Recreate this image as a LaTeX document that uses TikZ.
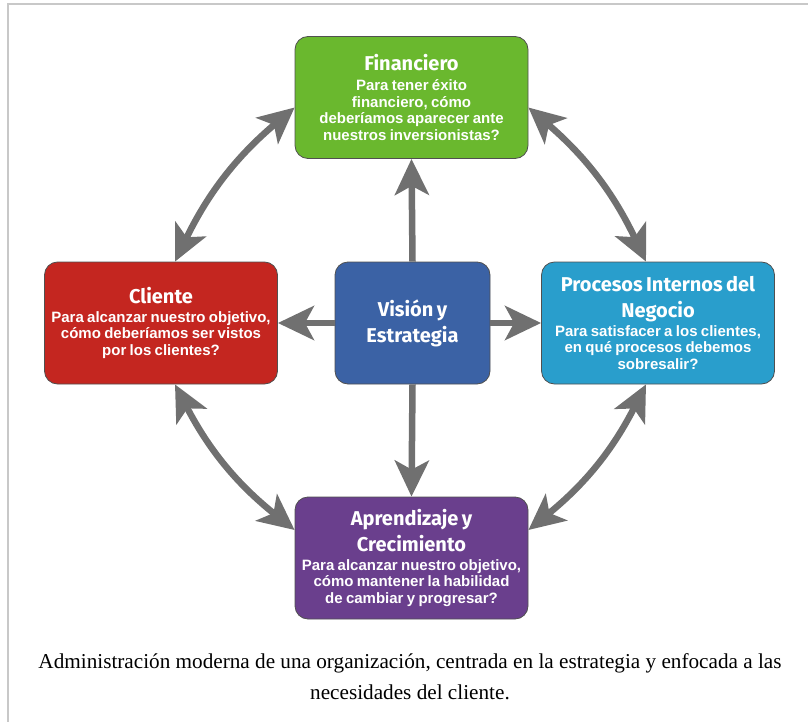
\documentclass[tikz,border=0pt]{standalone}
\usepackage{fontspec}
\setmainfont{Liberation Serif}
\newfontfamily\titlefont{Fira Sans}
\newfontfamily\bodyfont{Liberation Sans}
\usetikzlibrary{arrows.meta,calc}
\definecolor{cfin}{RGB}{106,184,46}
\definecolor{ccli}{RGB}{196,38,32}
\definecolor{cvis}{RGB}{59,98,165}
\definecolor{cpro}{RGB}{41,158,204}
\definecolor{capr}{RGB}{106,63,141}
\definecolor{arrgray}{RGB}{112,112,112}
\definecolor{boxborder}{RGB}{80,80,80}
\definecolor{framegray}{RGB}{200,200,200}
\newcommand\tfont{\titlefont\bfseries\fontsize{20}{26}\selectfont}
\newcommand\bfnt{\bodyfont\bfseries\fontsize{15}{16.8}\selectfont}
\tikzset{
  box/.style={draw=boxborder, line width=0.8pt, rounded corners=13pt,
    minimum width=233pt, minimum height=122pt, text width=230pt,
    align=center, text=white, inner sep=0pt},
  smallbox/.style={box, minimum width=155pt, text width=150pt},
  headtip/.tip={Stealth[length=36pt,width=34pt,inset=9pt]},
  arr/.style={draw=arrgray, line width=6.5pt, -headtip},
  biarr/.style={draw=arrgray, line width=6.5pt, headtip-headtip},
  captext/.style={inner sep=0pt, font={\fontsize{21.2}{24}\selectfont}},
}
\begin{document}
\begin{tikzpicture}[x=1pt,y=-1pt]
\useasboundingbox (0,0) rectangle (808,722);
\draw[framegray, line width=1.5pt] (8,722) -- (8,4) -- (808,4);

\node[box, fill=cfin] (fin) at (411.5,97.5)
  {{\tfont Financiero\par}\vspace{3pt}\bfnt Para tener éxito\\financiero, cómo\\deberíamos aparecer ante\\nuestros inversionistas?\par};
\node[box, fill=ccli] (cli) at (161,323)
  {{\tfont Cliente\par}\vspace{2pt}\bfnt Para alcanzar nuestro objetivo,\\cómo deberíamos ser vistos\\por los clientes?\par};
\node[smallbox, fill=cvis] (vis) at (412.5,323)
  {\tfont Visión y\\Estrategia\par};
\node[box, fill=cpro] (pro) at (658,323)
  {{\tfont Procesos Internos del\\Negocio\par}\vspace{2pt}\bfnt Para satisfacer a los clientes,\\en qué procesos debemos\\sobresalir?\par};
\node[box, fill=capr] (apr) at (411.5,558)
  {{\tfont Aprendizaje y\\Crecimiento\par}\vspace{2pt}\bfnt Para alcanzar nuestro objetivo,\\cómo mantener la habilidad\\de cambiar y progresar?\par};

\draw[arr] (vis.north) -- (fin.south);
\draw[arr] (vis.west) -- (cli.east);
\draw[arr] (vis.east) -- (pro.west);
\draw[arr] (vis.south) -- (apr.north);

\coordinate (a1) at ($(cli.north)+(14,0)$);
\coordinate (a2) at ($(fin.west)+(0,10)$);
\coordinate (b1) at ($(fin.east)+(0,10)$);
\coordinate (b2) at ($(pro.north)+(-12,0)$);
\coordinate (d1) at ($(pro.south)+(-12,0)$);
\coordinate (d2) at ($(apr.east)+(0,-28)$);
\coordinate (e1) at ($(apr.west)+(0,-28)$);
\coordinate (e2) at ($(cli.south)+(14,0)$);
\draw[biarr] (a1) to[bend left=12] (a2);
\draw[biarr] (b1) to[bend left=12] (b2);
\draw[biarr] (d1) to[bend left=12] (d2);
\draw[biarr] (e1) to[bend left=12] (e2);

\node[captext] (cap1) at (410,663)
  {Administración moderna de una organización, centrada en la estrategia y enfocada a las};
\node[captext] (cap2) at (410,692) {necesidades del cliente.};
\end{tikzpicture}
\end{document}
